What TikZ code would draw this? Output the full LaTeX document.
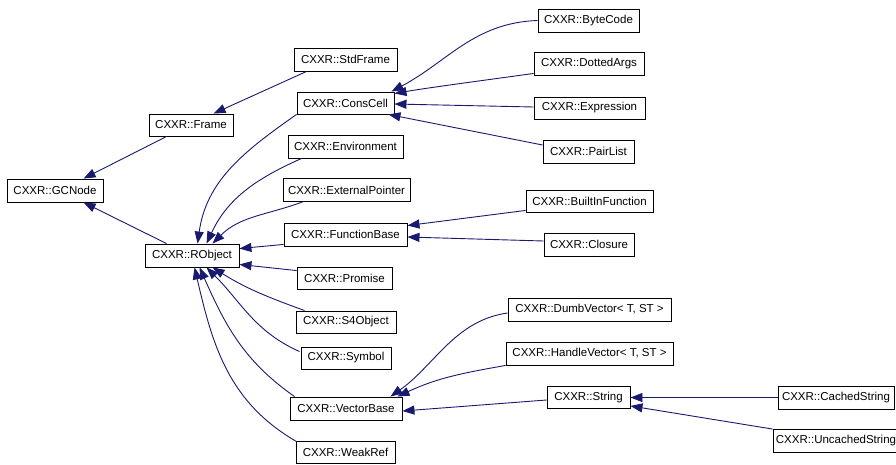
\documentclass[tikz,border=0pt]{standalone}
\usepackage{fontspec}
\setmainfont{Liberation Sans}
\usetikzlibrary{arrows.meta,calc}
\definecolor{edgeblue}{RGB}{25,25,112}
\tikzset{
  cls/.style={draw=black, fill=white, line width=0.9pt, inner sep=0pt, align=center,
    font=\fontsize{11.5}{13.8}\selectfont},
  inh/.style={draw=edgeblue, line width=0.9pt, {Triangle[length=12pt,width=9pt]}-},
}
\begin{document}
\begin{tikzpicture}[x=1pt,y=1pt]
\path[use as bounding box, fill=white] (0,0) rectangle (896,-464);
\clip (0,0) rectangle (896,-464);

% nodes
\node[cls, minimum width=96pt, minimum height=23pt] (gcnode) at (55,-190.5) {CXXR::GCNode};
\node[cls, minimum width=84pt, minimum height=22pt] (frame) at (191,-125) {CXXR::Frame};
\node[cls, minimum width=94pt, minimum height=23pt] (robject) at (192,-255.5) {CXXR::RObject};

\node[cls, minimum width=103pt, minimum height=23pt] (stdframe) at (345.5,-59.5) {CXXR::StdFrame};
\node[cls, minimum width=97pt, minimum height=22pt] (conscell) at (345.5,-103) {CXXR::ConsCell};
\node[cls, minimum width=115pt, minimum height=23pt] (environment) at (345.5,-146.5) {CXXR::Environment};
\node[cls, minimum width=127pt, minimum height=23pt] (extptr) at (346.5,-190) {CXXR::ExternalPointer};
\node[cls, minimum width=123pt, minimum height=23pt] (funcbase) at (345.5,-234.5) {CXXR::FunctionBase};
\node[cls, minimum width=95pt, minimum height=22pt] (promise) at (344.5,-278) {CXXR::Promise};
\node[cls, minimum width=100pt, minimum height=22pt] (s4object) at (346,-322) {CXXR::S4Object};
\node[cls, minimum width=90pt, minimum height=22pt] (symbol) at (346,-358) {CXXR::Symbol};
\node[cls, minimum width=112pt, minimum height=23pt] (vectorbase) at (346,-408.5) {CXXR::VectorBase};
\node[cls, minimum width=99pt, minimum height=22pt] (weakref) at (345.5,-452) {CXXR::WeakRef};

\node[cls, minimum width=101pt, minimum height=23pt] (bytecode) at (588.5,-20.5) {CXXR::ByteCode};
\node[cls, minimum width=110pt, minimum height=23pt] (dottedargs) at (589,-63.5) {CXXR::DottedArgs};
\node[cls, minimum width=111pt, minimum height=22pt] (expression) at (589.5,-108) {CXXR::Expression};
\node[cls, minimum width=91pt, minimum height=23pt] (pairlist) at (588.5,-151.5) {CXXR::PairList};
\node[cls, minimum width=127pt, minimum height=22pt] (builtin) at (589.5,-201) {CXXR::BuiltInFunction};
\node[cls, minimum width=90pt, minimum height=23pt] (closure) at (589,-244.5) {CXXR::Closure};
\node[cls, minimum width=163pt, minimum height=23pt] (dumbvec) at (589.5,-309.5) {CXXR::DumbVector< T, ST >};
\node[cls, minimum width=167pt, minimum height=23pt] (handlevec) at (589.5,-353.5) {CXXR::HandleVector< T, ST >};
\node[cls, minimum width=83pt, minimum height=22pt] (string) at (588.5,-397.5) {CXXR::String};

\node[cls, minimum width=116pt, minimum height=23pt] (cached) at (836,-397.5) {CXXR::CachedString};
\node[cls, minimum width=126pt, minimum height=23pt] (uncached) at (836,-440.5) {CXXR::UncachedString};

% edges (arrowhead at the base class)
\draw[inh] ($(gcnode.north west)+(77,0)$) -- ($(frame.south west)+(18,0)$);
\draw[inh] ($(gcnode.south west)+(77,0)$) -- ($(robject.north west)+(22,0)$);
\draw[inh] ($(frame.north west)+(65,0)$) -- ($(stdframe.south west)+(13,0)$);

\draw[inh] ($(robject.north west)+(53,0)$) to[out=82,in=215] (conscell.south west);
\draw[inh] ($(robject.north west)+(62,0)$) to[out=65,in=204] ($(environment.south west)+(14,0)$);
\draw[inh] ($(robject.north west)+(68,0)$) to[out=45,in=200] ($(extptr.south west)+(20,0)$);
\draw[inh] ($(robject.north east)+(0,-5)$) -- ($(funcbase.south west)+(0,2)$);
\draw[inh] ($(robject.south east)+(0,3)$) -- ($(promise.north west)+(0,-4)$);
\draw[inh] ($(robject.south west)+(68,0)$) to[out=-32,in=160] ($(s4object.north west)+(9,0)$);
\draw[inh] ($(robject.south west)+(62,0)$) to[out=-45,in=156] ($(symbol.north west)+(-1,-5)$);
\draw[inh] ($(robject.south west)+(55,0)$) to[out=-66,in=145] ($(vectorbase.north west)+(5,0)$);
\draw[inh] ($(robject.south west)+(50,0)$) to[out=-77,in=150] ($(weakref.north west)+(1,-1)$);

\draw[inh] ($(conscell.north east)+(-3,0)$) to[out=28,in=182,looseness=1.0] (bytecode.west);
\draw[inh] ($(conscell.north east)+(0,-2)$) to[out=10,in=188,looseness=0.6] ($(dottedargs.south west)+(0,2)$);
\draw[inh] ($(conscell.east)+(0,-1)$) -- ($(expression.west)+(0,1)$);
\draw[inh] ($(conscell.south east)+(-6,0)$) -- ($(pairlist.west)+(0,6.5)$);

\draw[inh] ($(funcbase.north east)+(0,-3)$) -- ($(builtin.south west)+(0,2)$);
\draw[inh] ($(funcbase.east)+(0,-2.5)$) -- ($(closure.west)+(0,3.5)$);

\draw[inh] ($(vectorbase.north east)+(-12,0)$) to[out=35,in=188,looseness=0.95] ($(dumbvec.west)+(0,-3.5)$);
\draw[inh] ($(vectorbase.north east)+(-5,0)$) to[out=25,in=190] (handlevec.south west);
\draw[inh] ($(vectorbase.east)+(0,-2.5)$) -- ($(string.west)+(0,-2.5)$);

\draw[inh] (string.east) -- (cached.west);
\draw[inh] ($(string.south east)+(0,3)$) -- ($(uncached.north west)+(0,-0.5)$);
\end{tikzpicture}
\end{document}
